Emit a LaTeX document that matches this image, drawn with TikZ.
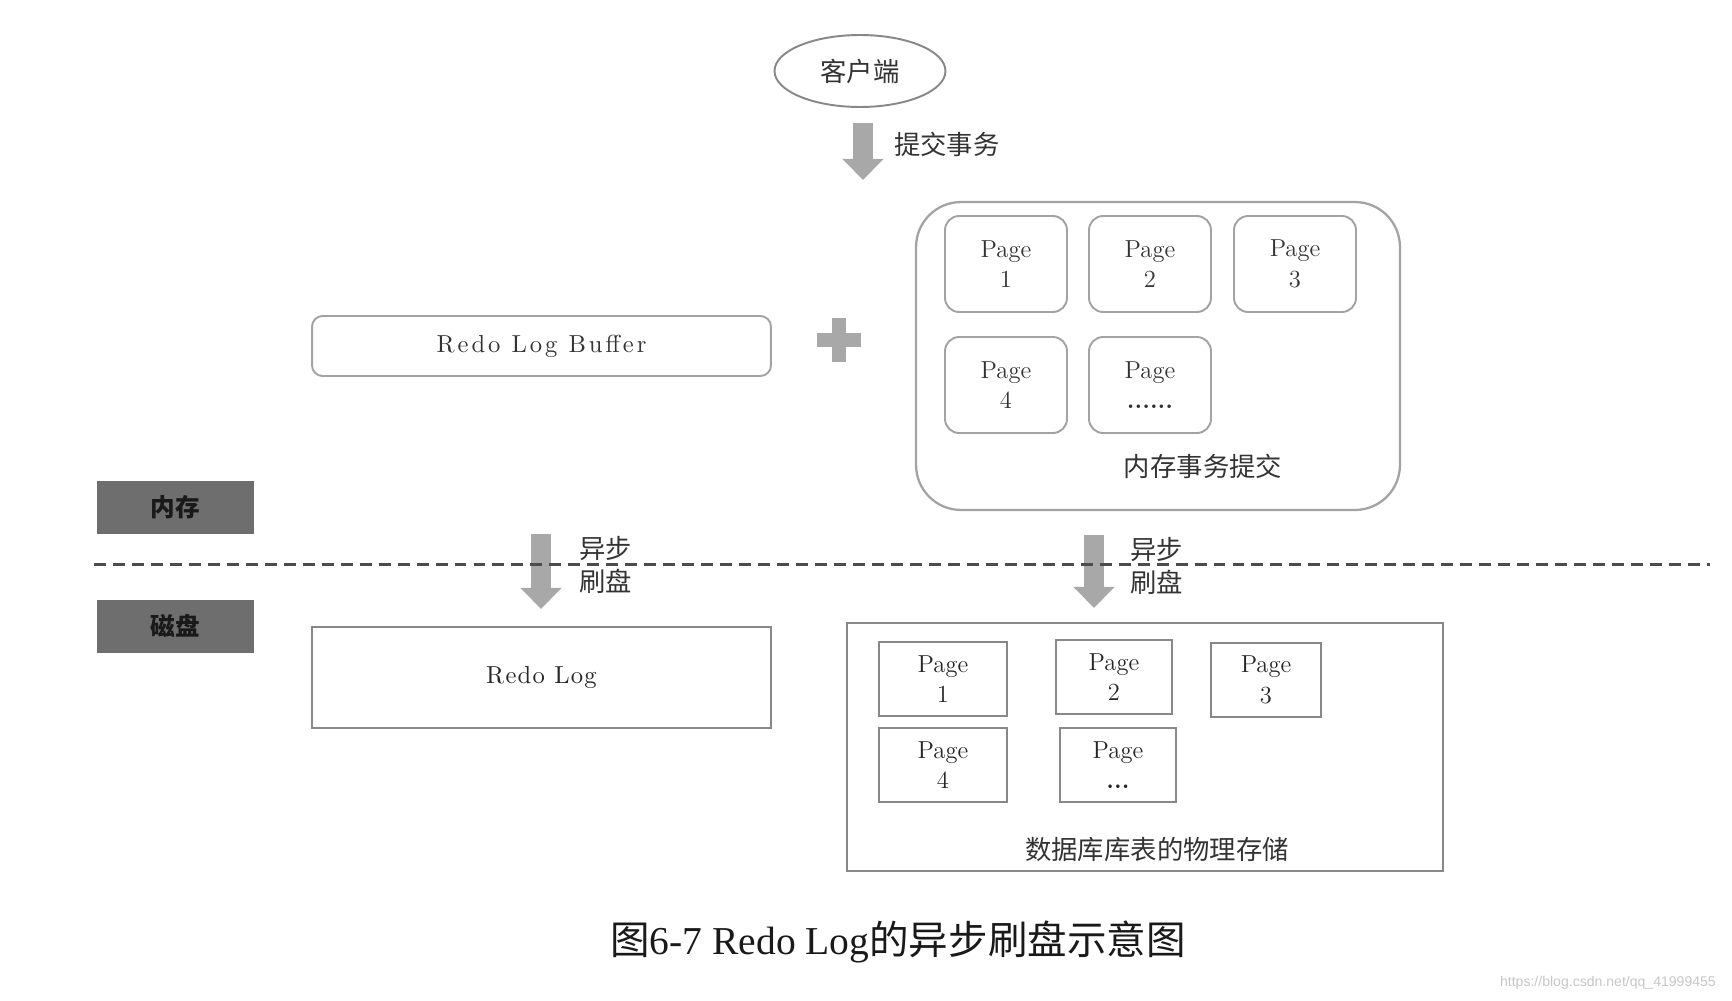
\documentclass[tikz,border=0pt]{standalone}
\usepackage{fontspec}
\newfontfamily\cjk{Noto Sans CJK SC}
\newfontfamily\capfont{Liberation Serif}
\newfontfamily\wmfont{Liberation Sans}
\newfontfamily\widefont{lmroman10-regular.otf}[LetterSpace=12]
\newfontfamily\semiwidefont{lmroman10-regular.otf}[LetterSpace=5]
\usetikzlibrary{arrows.meta,shapes.geometric}

\definecolor{boxgray}{HTML}{A3A3A3}
\definecolor{diskgray}{HTML}{888888}
\definecolor{arrowgray}{HTML}{A8A8A8}
\definecolor{labelgray}{HTML}{6E6E6E}
\definecolor{textgray}{HTML}{333333}

\tikzset{
  mempage/.style={draw=boxgray,line width=1.1pt,rounded corners=8pt,minimum width=2.44cm,minimum height=1.92cm,
    align=center,font=\fontsize{14}{17.5}\selectfont,text=textgray},
  diskpage/.style={draw=diskgray,line width=1.3pt,minimum height=1.48cm,
    align=center,font=\fontsize{14}{17.5}\selectfont,text=black!85},
  flow/.style={draw=arrowgray,line width=11.3pt,-{Triangle[width=22.7pt,length=12pt]}},
  zone/.style={fill=labelgray,minimum width=3.14cm,minimum height=1.06cm,font=\cjk\bfseries\fontsize{14}{16}\selectfont,text=black!90},
  zh/.style={font=\cjk\fontsize{15}{19}\selectfont,text=textgray}
}

\begin{document}
\begin{tikzpicture}[x=0.02cm,y=-0.02cm]
    \useasboundingbox (0,0) rectangle (1732,1001);
    % client and commit
    \node[ellipse,draw=diskgray,line width=1.1pt,minimum width=3.42cm,minimum height=1.44cm,inner sep=0pt,zh] (client) at (860,71) {客户端};
    \coordinate (c1) at (863,123);
    \coordinate (c2) at (863,180);
    \draw[flow] (c1) -- (c2);
    \node[zh,anchor=west] (commit) at (888,144) {提交事务};
    % memory
    \node[draw=boxgray,line width=1.1pt,rounded corners=6pt,minimum width=9.18cm,minimum height=1.2cm,
        font=\widefont\fontsize{14}{17}\selectfont,text=textgray] (buf) at (541.5,346) {Redo Log Buffer};
    \coordinate (plus) at (839,340);
    \fill[arrowgray] (plus) ++(-22,-7) rectangle ++(44,14);
    \fill[arrowgray] (plus) ++(-7,-22) rectangle ++(14,44);
    \node[draw=boxgray,line width=1.3pt,rounded corners=0.9cm,minimum width=9.68cm,minimum height=6.16cm] (mem) at (1158,356) {};
    \foreach \n/\cx/\cy/\t in {1/1006/264/1,2/1150/264/2,3/1295/264/3,4/1006/385/4,5/1150/385/{\bfseries ......}}
        {\node[mempage] (mp\n) at (\cx,\cy) {Page\\\t};
        }
    \node[zh] (memtxt) at (1203,466) {内存事务提交};
    % zones
    \node[zone] (ram) at (175.5,507) {内存};
    \node[zone] (disk) at (175.5,626) {磁盘};
    % async flush
    \coordinate (l1) at (541,534);
    \coordinate (l2) at (541,609);
    \draw[flow] (l1) -- (l2);
    \node[zh,anchor=west,align=left] (lflush) at (573,565) {异步\\刷盘};
    \coordinate (r1) at (1094,535);
    \coordinate (r2) at (1094,608);
    \draw[flow] (r1) -- (r2);
    \node[zh,anchor=west,align=left] (rflush) at (1124,566) {异步\\刷盘};
    \coordinate (dl) at (94,564);
    \coordinate (dr) at (1710,564);
    \draw[draw=black!70,line width=1.7pt,dash pattern=on 6.8pt off 4pt] (dl) -- (dr);
    % disk
    \node[draw=diskgray,line width=1.3pt,minimum width=9.18cm,minimum height=2.02cm,
        font=\semiwidefont\fontsize{14}{17}\selectfont,text=black!85] (rlog) at (541.5,677.5) {Redo Log};
    \node[draw=diskgray,line width=1.4pt,minimum width=11.92cm,minimum height=4.96cm] (store) at (1145,747) {};
    \foreach \n/\cx/\cy/\w/\t in {1/943/679/2.56/1,2/1114/677/2.32/2,3/1266/680/2.2/3,4/943/765/2.56/4,5/1118/765/2.32/{\bfseries ...}}
        {\node[diskpage,minimum width=\w cm] (dp\n) at (\cx,\cy) {Page\\\t};
        }
    \node[zh] (storetxt) at (1157,849) {数据库库表的物理存储};
    % caption
    \node[font=\fontsize{22.5}{26}\selectfont,text=black!90] (cap) at (898,942) {{\cjk 图}{\capfont 6-7 Redo Log}{\cjk 的异步刷盘示意图}};
    \node[font=\wmfont\fontsize{8}{9}\selectfont,text=black!22,anchor=east] (wm) at (1722,983) {https://blog.csdn.net/qq\_41999455};
\end{tikzpicture}
\end{document}
